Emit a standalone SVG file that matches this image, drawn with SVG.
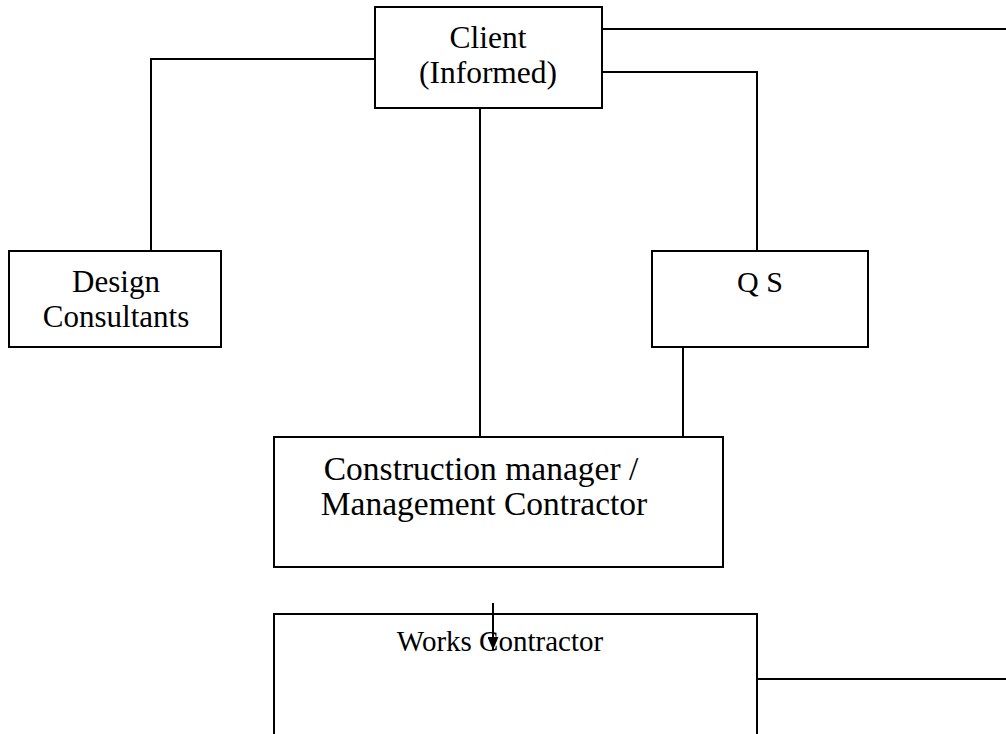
<svg xmlns="http://www.w3.org/2000/svg" width="1006" height="734" viewBox="0 0 1006 734">
  <defs>
    <style>
      .box { fill: #ffffff; stroke: #000000; stroke-width: 2; }
      .link { fill: none; stroke: #000000; stroke-width: 2; }
      .label { font-family: "Liberation Serif", "Times New Roman", serif; font-size: 30px; fill: #000000; text-anchor: middle; }
    </style>
    <marker id="arrowhead" viewBox="0 0 13 11" refX="13" refY="5.5" markerWidth="13" markerHeight="11" markerUnits="userSpaceOnUse" orient="auto">
      <path d="M0,0 L13,5.5 L0,11 Z" fill="#000000"/>
    </marker>
  </defs>
  <rect width="1006" height="734" fill="#ffffff"/>

  <g id="client">
    <rect class="box" x="375" y="7" width="227" height="101"/>
    <text class="label" x="488" y="48" style="font-size:31.5px">Client</text>
    <text class="label" x="488" y="83" style="font-size:31.5px">(Informed)</text>
  </g>

  <g id="design-consultants">
    <rect class="box" x="9" y="251" width="212" height="96"/>
    <text class="label" x="116" y="292" style="font-size:31px">Design</text>
    <text class="label" x="116" y="327" style="font-size:31px">Consultants</text>
  </g>

  <g id="qs">
    <rect class="box" x="652" y="251" width="216" height="96"/>
    <text class="label" x="760" y="292">Q S</text>
  </g>

  <g id="construction-manager">
    <rect class="box" x="274" y="437" width="449" height="130"/>
    <text class="label" x="481" y="480" style="font-size:33.5px">Construction manager /</text>
    <text class="label" x="484" y="515" style="font-size:33.5px">Management Contractor</text>
  </g>

  <g id="works-contractor">
    <rect class="box" x="274" y="614" width="483" height="140"/>
    <text class="label" x="500" y="651" style="font-size:29px">Works Contractor</text>
  </g>

  <!-- connectors, drawn over the boxes -->
  <g id="connectors">
    <polyline class="link" points="602,29 1006,29"/>
    <polyline class="link" points="602,72 757,72 757,251"/>
    <polyline class="link" points="375,59 151,59 151,251"/>
    <polyline class="link" points="480,108 480,437"/>
    <polyline class="link" points="683,347 683,437"/>
    <polyline class="link" points="757,679 1006,679"/>
    <line class="link" x1="493" y1="603" x2="493" y2="650" marker-end="url(#arrowhead)"/>
  </g>
</svg>
